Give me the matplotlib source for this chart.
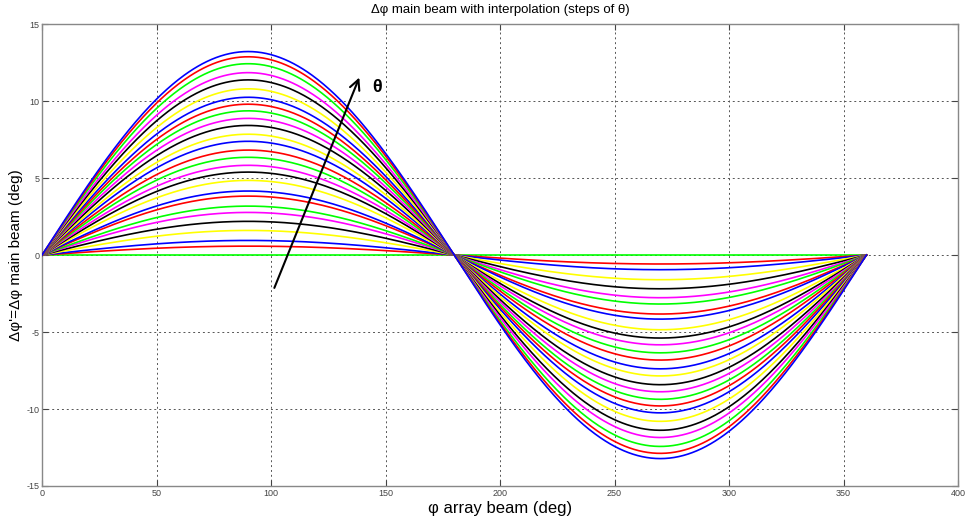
import numpy as np
import matplotlib
matplotlib.use("Agg")
import matplotlib.pyplot as plt

# Peak amplitude (deg) of each curve, one per theta step (read at phi = 90)
amplitudes = [0.0, 0.58, 0.95, 1.60, 2.19, 2.77, 3.18, 3.83, 4.16, 4.85,
              5.39, 5.83, 6.35, 6.82, 7.39, 7.85, 8.42, 8.88, 9.37, 9.80,
              10.25, 10.80, 11.38, 11.85, 12.43, 12.88, 13.22]
# line colour cycle used by the curves
color_cycle = ["#00ff00", "#ff0000", "#0000ff", "#ffff00", "#000000", "#ff00ff"]
phi = np.linspace(0, 360, 721)          # array beam angle (deg)
x_ticks = [0, 50, 100, 150, 200, 250, 300, 350, 400]
y_ticks = [-15, -10, -5, 0, 5, 10, 15]

plt.rcParams['font.family'] = ['Liberation Sans', 'DejaVu Sans']
plt.rcParams['axes.unicode_minus'] = False
fig = plt.figure(figsize=(9.68, 5.25), dpi=100)
ax = fig.add_axes([0.0434, 0.0743, 0.9463, 0.8797])

for i, a in enumerate(amplitudes):
    ax.plot(phi, a * np.sin(np.deg2rad(phi)), color=color_cycle[i % len(color_cycle)],
            lw=1.2, zorder=3 + i * 0.01)

ax.set_xlim(0, 400)
ax.set_ylim(-15, 15)
ax.set_xticks(x_ticks)
ax.set_yticks(y_ticks)
ax.tick_params(direction='in', labelsize=6.5, length=4, colors='#444444',
               top=True, right=True, pad=2)
for s in ax.spines.values():
    s.set_color('#888888')
    s.set_linewidth(1.0)
ax.grid(True, linestyle=(0, (2, 3)), color='#555555', lw=0.7)

ax.set_title("Δφ main beam with interpolation (steps of θ)", fontsize=9.5, pad=8)
ax.set_xlabel("φ array beam (deg)", fontsize=12, labelpad=2)
ax.set_ylabel("Δφ'=Δφ main beam (deg)", fontsize=11, labelpad=2)

ax.annotate("", xy=(139, 11.7), xytext=(101, -2.3),
            arrowprops=dict(arrowstyle='->', color='black', lw=1.5,
                            mutation_scale=18), zorder=10)
ax.text(144, 10.9, "θ", fontsize=13, fontweight='bold', va='center', ha='left',
        zorder=10)

fig.savefig("out.png", dpi=100)
